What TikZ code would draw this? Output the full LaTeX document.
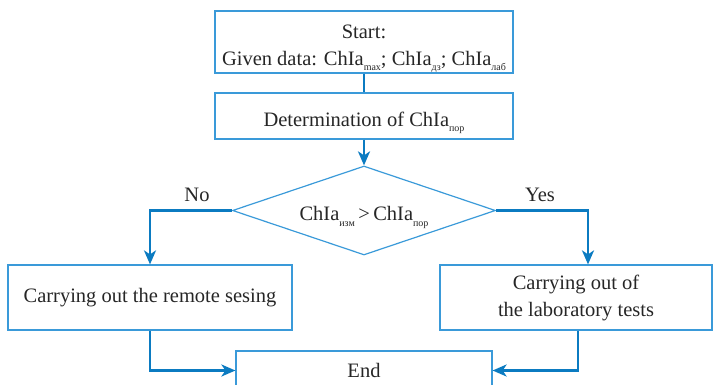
\documentclass[tikz,border=0pt]{standalone}
\usepackage{fontspec}
\setmainfont{Liberation Serif}
\usetikzlibrary{arrows.meta,shapes.geometric}
\definecolor{boxblue}{HTML}{3A9AD9}
\definecolor{linkblue}{HTML}{0B7BC1}
\newcommand\chsub[1]{\raisebox{-0.6ex}{\fontsize{10}{10}\selectfont #1}}
\newcommand\lowstrut[1]{\rule{0pt}{#1}}
\newcommand\shiftdown[2]{\raisebox{-#1}[0pt][0pt]{\begin{tabular}{@{}c@{}}#2\end{tabular}}}
\tikzset{
  x=1pt, y=-1pt,
  every node/.style={font=\fontsize{20.5}{27}\selectfont, text=black!85},
  blk/.style={draw=boxblue, line width=1.2pt, rectangle, inner sep=0pt, align=center},
  dec/.style={draw=boxblue, line width=1.2pt, diamond, shape aspect=3, inner sep=0pt, minimum width=263pt, minimum height=89pt},
  link/.style={draw=linkblue, line width=2.6pt},
  arr/.style={link, -{Stealth[length=14pt,width=12pt,inset=4pt]}},
}
\begin{document}
\begin{tikzpicture}
\useasboundingbox (0,0) rectangle (714,385);
\node[blk, minimum width=298pt, minimum height=62pt] (start) at (364,42)
  {\shiftdown{9.5pt}{Start:\\Given data: ChIa\chsub{max}; ChIa\chsub{дз}; ChIa\chsub{лаб}}};
\node[blk, minimum width=298pt, minimum height=46pt] (det) at (364,116)
  {\lowstrut{28pt}Determination of ChIa\chsub{пор}};
\node[dec] (dia) at (364,210.5) {\lowstrut{28pt}ChIa\chsub{изм}\,>\,ChIa\chsub{пор}};
\node[blk, minimum width=284pt, minimum height=65pt] (lbox) at (150,297.5)
  {Carrying out the remote sesing};
\node[blk, minimum width=272pt, minimum height=65pt] (rbox) at (576,297.5)
  {Carrying out of\\the laboratory tests};
\node[blk, minimum width=256pt, minimum height=39pt] (end) at (364,370.5) {End};
\node (no) at (197,195) {No};
\node (yes) at (540,195) {Yes};
\draw[link] (start.south) -- (det.north);
\draw[arr] (det.south) -- (dia.north);
\draw[arr] (dia.west) -| (lbox.north);
\draw[arr] (dia.east) -| ([xshift=12pt]rbox.north);
\draw[arr] (lbox.south) |- (end.west);
\draw[arr] ([xshift=2pt]rbox.south) |- (end.east);
\end{tikzpicture}
\end{document}
